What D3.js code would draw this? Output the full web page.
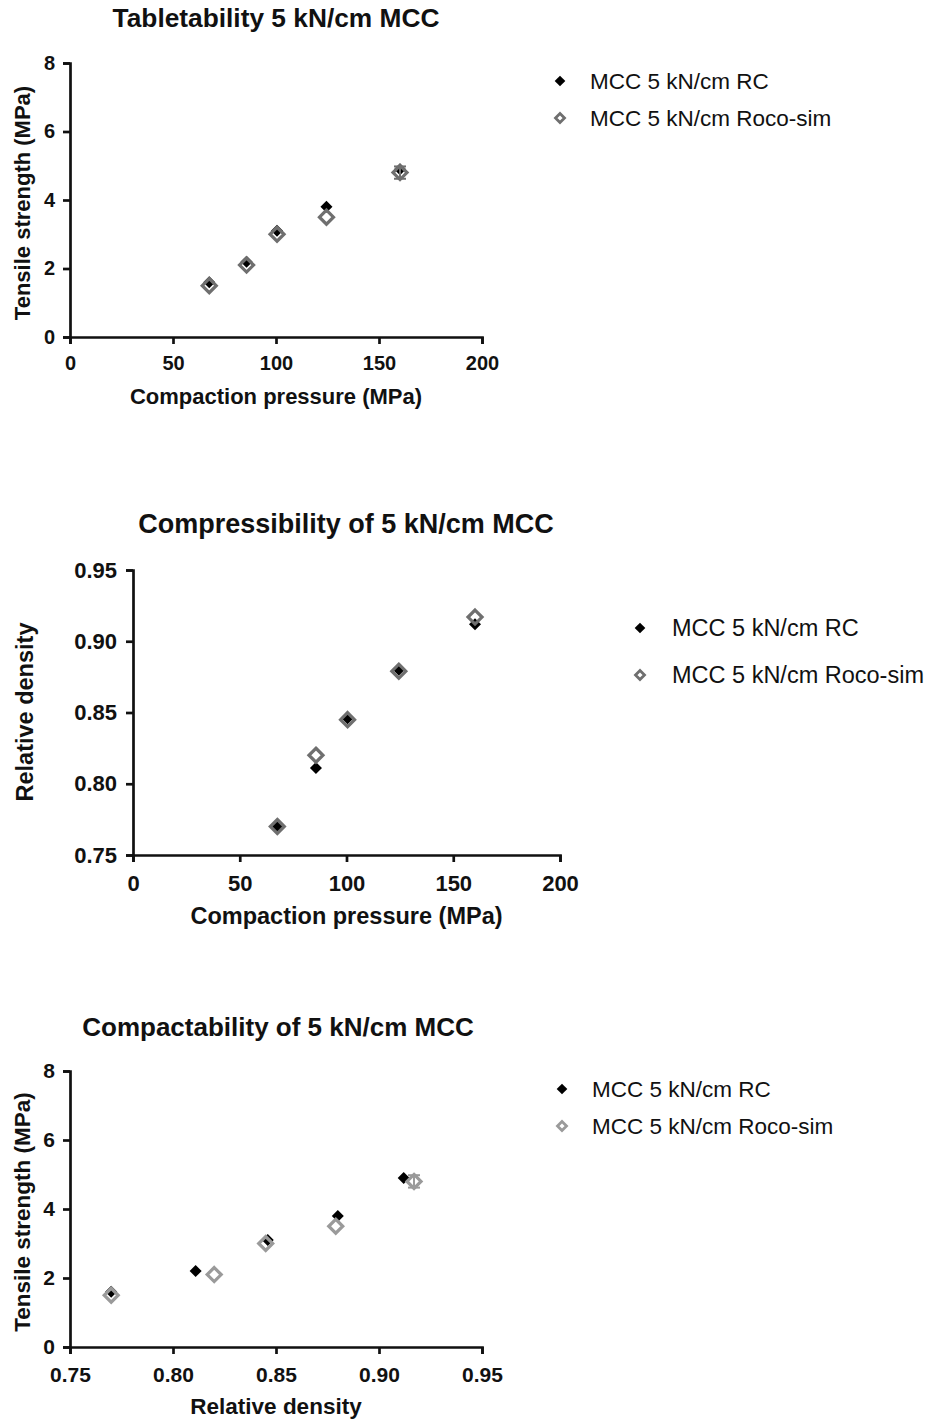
<!DOCTYPE html>
<html><head><meta charset="utf-8">
<script src="https://cdn.jsdelivr.net/npm/d3@7"></script>
<style>body{margin:0;background:#fff}svg{display:block}text{font-family:"Liberation Sans",Arial,sans-serif}</style>
</head><body>
<svg id="c" width="927" height="1422"></svg>
<script>
// ---- data ----
const seriesNames = ["MCC 5 kN/cm RC", "MCC 5 kN/cm Roco-sim"];
const pressureRC = [67.6, 85.7, 100.5, 124.5, 160.2];
const pressureSim = [67.6, 85.7, 100.5, 124.5, 160.2];
const tensileRC = [1.6, 2.2, 3.1, 3.8, 4.9];
const tensileSim = [1.5, 2.1, 3.0, 3.5, 4.8];
const tensileSimSD = [0, 0, 0, 0, 0.18];
const densityRC = [0.770, 0.811, 0.846, 0.880, 0.912];
const densitySim = [0.770, 0.820, 0.845, 0.879, 0.917];
const pressureTicks = [0, 50, 100, 150, 200];
const tensileTicks = [0, 2, 4, 6, 8];
const densityTicks = [0.75, 0.80, 0.85, 0.90, 0.95];
const titles = ["Tabletability 5 kN/cm MCC", "Compressibility of 5 kN/cm MCC", "Compactability of 5 kN/cm MCC"];

const svg = d3.select("#c");

function panel(o){
  const g = svg.append("g");
  const x = d3.scaleLinear().domain(o.xDomain).range([o.left, o.right]);
  const y = d3.scaleLinear().domain(o.yDomain).range([o.bottom, o.top]);
  g.append("text").attr("x", o.titleX).attr("y", o.titleY).attr("text-anchor","middle")
    .attr("font-size", o.titleFs).attr("font-weight","bold").attr("fill","#111").text(o.title);
  const xa = g.append("g").attr("transform", `translate(0,${o.bottom})`)
    .call(d3.axisBottom(x).tickValues(o.xTicks).tickSize(7).tickPadding(o.xPad).tickFormat(o.xFmt));
  const ya = g.append("g").attr("transform", `translate(${o.left},0)`)
    .call(d3.axisLeft(y).tickValues(o.yTicks).tickSize(7).tickPadding(o.yPad).tickFormat(o.yFmt));
  [xa, ya].forEach(a => {
    a.select(".domain").attr("stroke","#111").attr("stroke-width",2.7);
    a.selectAll(".tick line").attr("stroke","#111").attr("stroke-width",2.7);
    a.selectAll(".tick text").attr("font-size",o.tickFs).attr("font-weight","bold").attr("fill","#111")
      .attr("font-family",'"Liberation Sans",Arial,sans-serif');
  });
  g.append("text").attr("x", (o.left+o.right)/2).attr("y", o.xTitleY).attr("text-anchor","middle")
    .attr("font-size",o.axisFs).attr("font-weight","bold").attr("fill","#111").text(o.xTitle);
  g.append("text").attr("transform", `translate(${o.yTitleX},${o.yTitleY}) rotate(-90)`).attr("text-anchor","middle")
    .attr("font-size",o.axisFs).attr("font-weight","bold").attr("fill","#111").text(o.yTitle);

  const big = d3.symbol().type(d3.symbolDiamond2).size(125);
  const small = d3.symbol().type(d3.symbolDiamond2).size(92);
  // RC filled diamonds
  g.selectAll(".rc").data(o.rcX.map((v,i)=>({x:v,y:o.rcY[i]}))).join("path")
    .attr("d", small()).attr("transform", d=>`translate(${x(d.x)},${y(d.y)})`).attr("fill","#000");
  // error bars for sim
  const simData = o.simX.map((v,i)=>({x:v,y:o.simY[i],sd:o.simSD ? o.simSD[i] : 0}));
  simData.filter(d=>d.sd>0).forEach(d=>{
    const cx = x(d.x);
    g.append("line").attr("x1",cx).attr("x2",cx).attr("y1",y(d.y-d.sd)).attr("y2",y(d.y+d.sd)).attr("stroke",o.simColor).attr("stroke-width",2);
    [d.y-d.sd, d.y+d.sd].forEach(v=>g.append("line").attr("x1",cx-6).attr("x2",cx+6).attr("y1",y(v)).attr("y2",y(v)).attr("stroke",o.simColor).attr("stroke-width",2));
  });
  g.selectAll(".sim").data(simData).join("path")
    .attr("d", big()).attr("transform", d=>`translate(${x(d.x)},${y(d.y)})`)
    .attr("fill","none").attr("stroke",o.simColor).attr("stroke-width",3.2);

  // legend
  const legSym = d3.symbol().type(d3.symbolDiamond2).size(72);
  const legSym2 = d3.symbol().type(d3.symbolDiamond2).size(52);
  seriesNames.forEach((n,i)=>{
    const ly = o.legY + i*o.legGap;
    g.append("path").attr("d", (i===0?legSym:legSym2)())
      .attr("transform",`translate(${o.legX},${ly})`)
      .attr("fill", i===0?"#000":"none").attr("stroke", i===0?"none":o.simColor).attr("stroke-width",2.8);
    g.append("text").attr("x", o.legX+o.legTextDx).attr("y", ly).attr("dy","0.35em").attr("font-size",o.legFs).attr("fill","#111").text(n);
  });
}

panel({title:titles[0], titleX:276, titleY:27, titleFs:26.3,
  tickFs:20, axisFs:22, legFs:22.5, xPad:12, yPad:8,
  xDomain:[0,200], yDomain:[0,8], left:70, right:482, top:63, bottom:337,
  xTicks:pressureTicks, yTicks:tensileTicks, xFmt:d3.format("d"), yFmt:d3.format("d"),
  xTitle:"Compaction pressure (MPa)", xTitleY:404, yTitle:"Tensile strength (MPa)", yTitleX:30, yTitleY:203,
  rcX:pressureRC, rcY:tensileRC, simX:pressureSim, simY:tensileSim, simSD:tensileSimSD, simColor:"#6f6f6f",
  legX:560, legY:81, legGap:37, legTextDx:30});

panel({title:titles[1], titleX:346, titleY:533, titleFs:27,
  tickFs:22, axisFs:23.5, legFs:23.5, xPad:13, yPad:9,
  xDomain:[0,200], yDomain:[0.75,0.95], left:133, right:560, top:570, bottom:855,
  xTicks:pressureTicks, yTicks:densityTicks, xFmt:d3.format("d"), yFmt:d3.format(".2f"),
  xTitle:"Compaction pressure (MPa)", xTitleY:924, yTitle:"Relative density", yTitleX:33, yTitleY:712,
  rcX:pressureRC, rcY:densityRC, simX:pressureSim, simY:densitySim, simSD:null, simColor:"#6f6f6f",
  legX:640, legY:628, legGap:47, legTextDx:32});

panel({title:titles[2], titleX:278, titleY:1036, titleFs:26,
  tickFs:21, axisFs:22.5, legFs:22.5, xPad:13, yPad:8,
  xDomain:[0.75,0.95], yDomain:[0,8], left:70, right:482, top:1071, bottom:1347,
  xTicks:densityTicks, yTicks:tensileTicks, xFmt:d3.format(".2f"), yFmt:d3.format("d"),
  xTitle:"Relative density", xTitleY:1414, yTitle:"Tensile strength (MPa)", yTitleX:30, yTitleY:1212,
  rcX:densityRC, rcY:tensileRC, simX:densitySim, simY:tensileSim, simSD:tensileSimSD, simColor:"#9a9a9a",
  legX:562, legY:1089, legGap:37, legTextDx:30});
</script>
</body></html>
